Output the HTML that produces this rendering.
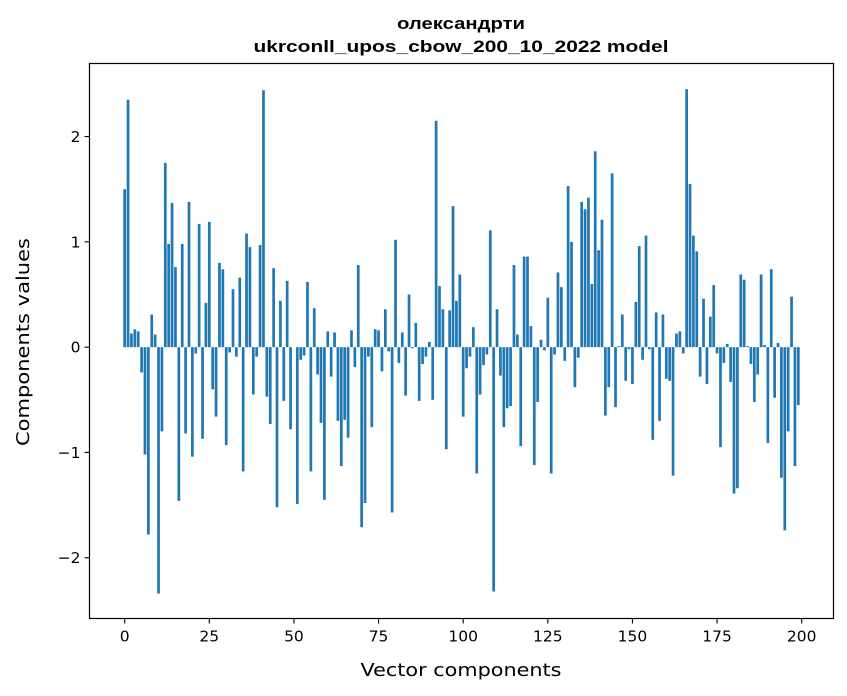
<!DOCTYPE html>
<html><head><meta charset="utf-8"><style>
html,body{margin:0;padding:0;background:#fff;}
svg{display:block;font-family:"DejaVu Sans","Liberation Sans",sans-serif;}
</style></head><body>
<svg id="chart" width="847" height="696" viewBox="0 0 847 696" xmlns="http://www.w3.org/2000/svg">
<rect width="847" height="696" fill="#fff"/>
<text x="461" y="29" text-anchor="middle" font-size="16.5" font-weight="bold" font-family="Liberation Sans, sans-serif" textLength="128" lengthAdjust="spacingAndGlyphs" fill="#000">олександрти</text>
<text x="461" y="52" text-anchor="middle" font-size="16.5" font-weight="bold" font-family="Liberation Sans, sans-serif" textLength="415" lengthAdjust="spacingAndGlyphs" fill="#000">ukrconll_upos_cbow_200_10_2022 model</text>
<g id="bars"></g>
<g id="axes"></g>
<rect x="89.5" y="63.5" width="744" height="555" fill="none" stroke="#000" stroke-width="1.2"/>
<text x="461" y="676" text-anchor="middle" font-size="18" textLength="201" lengthAdjust="spacingAndGlyphs" fill="#000">Vector components</text>
<text transform="translate(29,342) rotate(-90)" text-anchor="middle" font-size="18" textLength="208" lengthAdjust="spacingAndGlyphs" fill="#000">Components values</text>
</svg>
<script>
const values = [1.50,2.35,0.13,0.17,0.15,-0.24,-1.02,-1.78,0.31,0.12,
-2.34,-0.80,1.75,0.98,1.37,0.76,-1.46,0.98,-0.82,1.38,
-1.04,-0.06,1.17,-0.87,0.42,1.19,-0.40,-0.66,0.80,0.74,
-0.93,-0.05,0.55,-0.09,0.66,-1.18,1.08,0.95,-0.45,-0.09,
0.97,2.44,-0.47,-0.73,0.75,-1.52,0.44,-0.51,0.63,-0.78,
0.00,-1.49,-0.12,-0.08,0.62,-1.18,0.37,-0.26,-0.72,-1.45,
0.15,-0.28,0.14,-0.70,-1.13,-0.69,-0.86,0.16,-0.19,0.78,
-1.71,-1.48,-0.09,-0.76,0.17,0.16,-0.23,0.36,-0.04,-1.57,
1.02,-0.15,0.14,-0.46,0.50,-0.01,0.23,-0.51,-0.16,-0.09,
0.05,-0.50,2.15,0.58,0.36,-0.97,0.35,1.34,0.44,0.69,
-0.66,-0.20,-0.09,0.19,-1.20,-0.45,-0.17,-0.07,1.11,-2.32,
0.36,-0.27,-0.76,-0.58,-0.56,0.78,0.12,-0.94,0.86,0.86,
0.20,-1.12,-0.52,0.07,-0.03,0.47,-1.20,-0.07,0.71,0.57,
-0.13,1.53,1.00,-0.38,-0.10,1.38,1.31,1.42,0.60,1.86,
0.92,1.21,-0.65,-0.38,1.65,-0.57,0.01,0.31,-0.32,-0.02,
-0.35,0.43,0.96,-0.12,1.06,-0.02,-0.88,0.33,-0.70,0.31,
-0.30,-0.32,-1.22,0.13,0.15,-0.06,2.45,1.55,1.06,0.91,
-0.28,0.46,-0.35,0.29,0.59,-0.06,-0.95,-0.15,0.03,-0.33,
-1.39,-1.34,0.69,0.64,0.01,-0.16,-0.52,-0.26,0.69,0.02,
-0.91,0.74,-0.48,0.04,-1.24,-1.74,-0.80,0.48,-1.13,-0.55];
const xTicks = [0,25,50,75,100,125,150,175,200];
const yTicks = [-2,-1,0,1,2];
const yTickLabels = ["\u22122","\u22121","0","1","2"];

const NS = "http://www.w3.org/2000/svg";
const plot = {l:89.5, r:833.5, t:63.5, b:618.5};
const xMin = -10.39, xMax = 209.39, yMin = -2.577, yMax = 2.694;
function xs(v){ return plot.l + (v - xMin) / (xMax - xMin) * (plot.r - plot.l); }
function ys(v){ return plot.b - (v - yMin) / (yMax - yMin) * (plot.b - plot.t); }

const gb = document.getElementById('bars');
values.forEach((v, i) => {
  const r = document.createElementNS(NS, 'rect');
  const x0 = xs(i - 0.4), x1 = xs(i + 0.4);
  const y0 = ys(Math.max(v, 0)), y1 = ys(Math.min(v, 0));
  r.setAttribute('x', x0);
  r.setAttribute('width', x1 - x0);
  r.setAttribute('y', y0);
  r.setAttribute('height', Math.max(y1 - y0, 0));
  r.setAttribute('fill', '#1f77b4');
  
  
  gb.appendChild(r);
});

const ga = document.getElementById('axes');
xTicks.forEach(t => {
  const x = xs(t);
  const l = document.createElementNS(NS, 'line');
  l.setAttribute('x1', x); l.setAttribute('x2', x);
  l.setAttribute('y1', plot.b); l.setAttribute('y2', plot.b + 5);
  l.setAttribute('stroke', '#000'); l.setAttribute('stroke-width', '1.1');
  
  
  ga.appendChild(l);
  const tx = document.createElementNS(NS, 'text');
  tx.setAttribute('x', x); tx.setAttribute('y', plot.b + 23);
  tx.setAttribute('text-anchor', 'middle'); tx.setAttribute('font-size', '15.5');
  tx.textContent = String(t);
  
  
  ga.appendChild(tx);
});
yTicks.forEach((t, k) => {
  const y = ys(t);
  const l = document.createElementNS(NS, 'line');
  l.setAttribute('x1', plot.l - 5); l.setAttribute('x2', plot.l);
  l.setAttribute('y1', y); l.setAttribute('y2', y);
  l.setAttribute('stroke', '#000'); l.setAttribute('stroke-width', '1.1');
  
  
  ga.appendChild(l);
  const tx = document.createElementNS(NS, 'text');
  tx.setAttribute('x', plot.l - 9); tx.setAttribute('y', y + 5.5);
  tx.setAttribute('text-anchor', 'end'); tx.setAttribute('font-size', '15.5');
  tx.textContent = yTickLabels[k];
  
  
  ga.appendChild(tx);
});
</script>
</body></html>
